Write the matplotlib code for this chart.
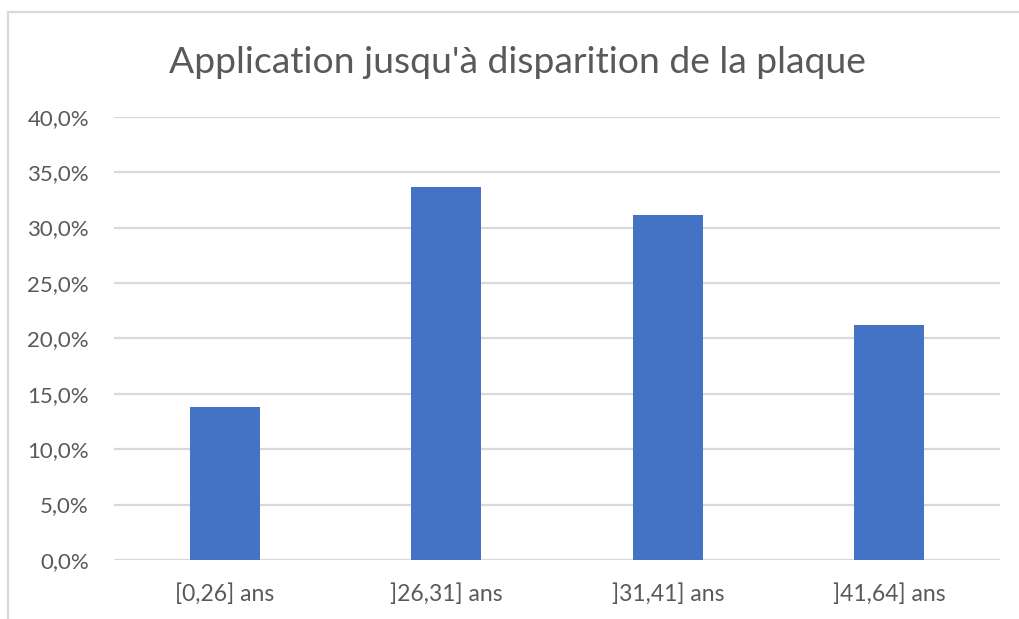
import matplotlib
matplotlib.use("Agg")
import matplotlib.pyplot as plt
from matplotlib.patches import Rectangle
from matplotlib.ticker import FuncFormatter, MultipleLocator

# Data
categories = ["[0,26] ans", "]26,31] ans", "]31,41] ans", "]41,64] ans"]
values = [13.8, 33.7, 31.1, 21.2]  # percent
title = "Application jusqu'à disparition de la plaque"

bar_color = "#4472C4"
text_color = "#595959"
grid_color = "#D9D9D9"

plt.rcParams["font.family"] = ["Lato", "DejaVu Sans"]

fig = plt.figure(figsize=(10.19, 6.19), dpi=100)
ax = fig.add_axes([0.1119, 0.0953, 0.9814 - 0.1119, 0.8115 - 0.0953])

x = range(len(categories))
ax.bar(x, values, width=0.315, color=bar_color, zorder=3)

ax.set_xlim(-0.5, len(categories) - 0.5)
ax.set_ylim(0, 40)
ax.yaxis.set_major_locator(MultipleLocator(5))
ax.yaxis.set_major_formatter(
    FuncFormatter(lambda v, _: f"{v:.1f}%".replace(".", ","))
)
ax.set_xticks(list(x))
ax.set_xticklabels(categories)

ax.grid(axis="y", color=grid_color, linewidth=1.6, zorder=0)
ax.tick_params(axis="y", length=0, pad=18, labelsize=16, labelcolor=text_color)
ax.tick_params(axis="x", length=0, pad=16.5, labelsize=16.5, labelcolor=text_color)
for s in ax.spines.values():
    s.set_visible(False)

fig.text(0.5075, 1 - 73 / 619, title, ha="center", va="baseline",
         fontsize=26.8, color=text_color)

# chart area border (Excel style), runs off the right and bottom edges
fig.patches.append(Rectangle((8 / 1019, -0.1), 1.2, 1 - 11.5 / 619 + 0.1,
                             transform=fig.transFigure, fill=False,
                             edgecolor=grid_color, linewidth=1.6))

fig.savefig("out.png", dpi=100)
